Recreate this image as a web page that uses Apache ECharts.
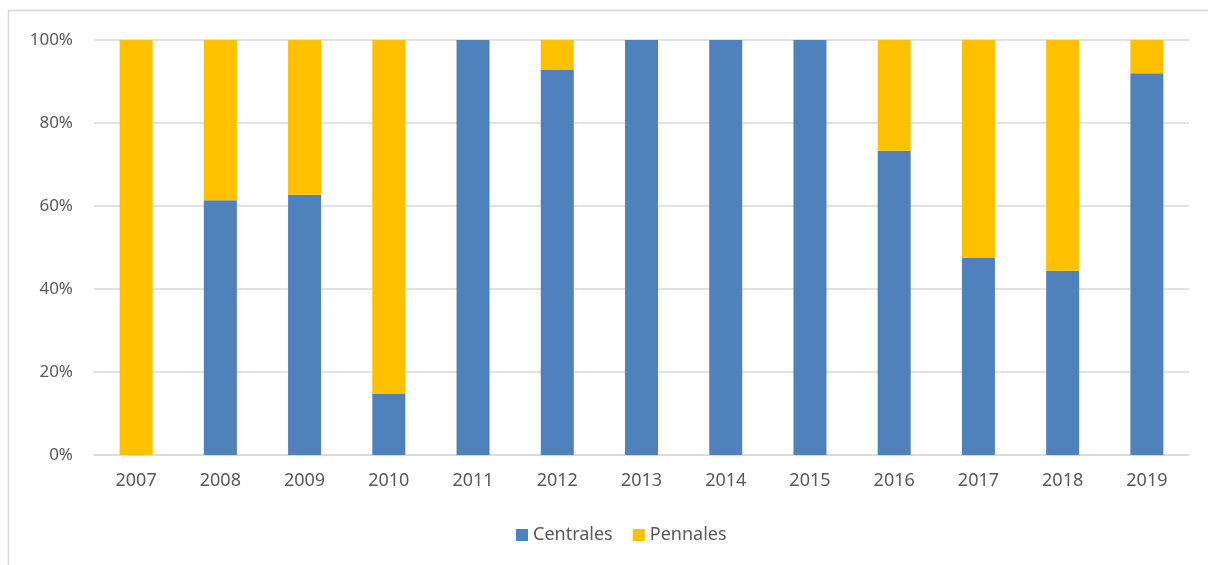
<!DOCTYPE html>
<html>
<head>
<meta charset="utf-8">
<script src="https://cdn.jsdelivr.net/npm/echarts@6/dist/echarts.min.js"></script>
<style>
  html, body { margin: 0; padding: 0; background: #fff; }
  #chart { width: 1208px; height: 565px; }
</style>
</head>
<body>
<div id="chart"></div>
<script>
const years = ["2007", "2008", "2009", "2010", "2011", "2012", "2013", "2014", "2015", "2016", "2017", "2018", "2019"];
// share in %
const centrales = [0, 61.4, 62.7, 14.7, 100, 92.8, 100, 100, 100, 73.3, 47.6, 44.4, 92.0];
const pennales = [100, 38.6, 37.3, 85.3, 0, 7.2, 0, 0, 0, 26.7, 52.4, 55.6, 8.0];

const textColor = "#595959";
const lineColor = "#d9d9d9";
const font = "Noto Sans";

const myChart = echarts.init(document.getElementById("chart"));

const option = {
  animation: false,
  textStyle: { fontFamily: font },
  graphic: [
    {
      type: "rect",
      silent: true,
      shape: { x: 8.5, y: 10.5, width: 1230, height: 600 },
      style: { fill: "none", stroke: lineColor, lineWidth: 1.5 },
    },
  ],
  grid: { left: 94, right: 19, top: 40, bottom: 110 },
  legend: {
    bottom: 16,
    left: 511,
    itemWidth: 12,
    itemHeight: 12,
    itemGap: 20,
    icon: "rect",
    textStyle: { color: textColor, fontSize: 18, fontFamily: font },
    data: ["Centrales", "Pennales"],
  },
  xAxis: {
    type: "category",
    data: years,
    axisLine: { lineStyle: { color: lineColor, width: 1.5 } },
    axisTick: { show: false },
    axisLabel: { color: textColor, fontSize: 18, margin: 17 },
  },
  yAxis: {
    type: "value",
    min: 0,
    max: 100,
    interval: 20,
    axisLine: { show: false },
    axisTick: { show: false },
    splitLine: { lineStyle: { color: lineColor, width: 1.5 } },
    axisLabel: {
      color: textColor,
      fontSize: 17,
      margin: 21,
      formatter: "{value}%",
    },
  },
  series: [
    {
      name: "Centrales",
      type: "bar",
      stack: "total",
      data: centrales,
      barWidth: 33,
      itemStyle: { color: "#4f81bd" },
    },
    {
      name: "Pennales",
      type: "bar",
      stack: "total",
      data: pennales,
      barWidth: 33,
      itemStyle: { color: "#ffc000" },
    },
  ],
};

myChart.setOption(option);
</script>
</body>
</html>
